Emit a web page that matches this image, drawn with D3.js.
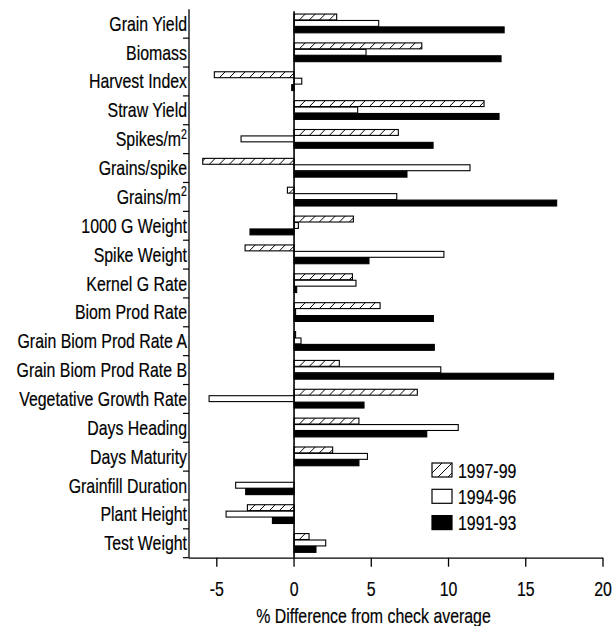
<!DOCTYPE html>
<html>
<head>
<meta charset="utf-8">
<script src="https://cdn.jsdelivr.net/npm/d3@7"></script>
<style>
  html, body { margin: 0; padding: 0; background: #fff; }
  svg text { font-family: "Liberation Sans", Arial, sans-serif; fill: #000; stroke: #000; stroke-width: 0.2; }
</style>
</head>
<body>
<svg id="chart" width="612" height="626"></svg>
<script>
// Traits, top to bottom
const traits = [
  "Grain Yield", "Biomass", "Harvest Index", "Straw Yield", "Spikes/m2",
  "Grains/spike", "Grains/m2", "1000 G Weight", "Spike Weight", "Kernel G Rate",
  "Biom Prod Rate", "Grain Biom Prod Rate A", "Grain Biom Prod Rate B",
  "Vegetative Growth Rate", "Days Heading", "Days Maturity",
  "Grainfill Duration", "Plant Height", "Test Weight"
];

// Periods (legend order)
const periods = ["1997-99", "1994-96", "1991-93"];

// % difference from check average, one array per period
const values1997_99 = [2.76, 8.27, -5.16, 12.3, 6.75, -5.91, -0.43, 3.84, -3.17, 3.78,
                       5.57, 0.1, 2.93, 7.98, 4.2, 2.5, 0, -3.02, 0.97];
const values1994_96 = [5.48, 4.66, 0.5, 4.12, -3.43, 11.39, 6.65, 0.28, 9.7, 4.01,
                       0.1, 0.45, 9.5, -5.5, 10.63, 4.75, -3.78, -4.4, 2.05];
const values1991_93 = [13.6, 13.4, -0.15, 13.27, 9.0, 7.31, 17.0, -2.85, 4.85, 0.17,
                       9.02, 9.08, 16.8, 4.53, 8.59, 4.2, -3.13, -1.4, 1.42];

const xTicks = [-5, 0, 5, 10, 15, 20];
const xTitle = "% Difference from check average";

const seriesValues = [values1997_99, values1994_96, values1991_93];

const svg = d3.select("#chart");
const plotLeft = 189, plotRight = 603, plotTop = 9.3, plotBottom = 557.7;
const FONT = 21, NARROW = 0.757;   // condensed lettering

// place a text at (px, py) with horizontally condensed glyphs
function narrow(sel, px, py) {
  return sel.attr("transform", (d, i) => {
    const xx = typeof px === "function" ? px(d, i) : px;
    const yy = typeof py === "function" ? py(d, i) : py;
    return `translate(${xx},${yy}) scale(${NARROW},1)`;
  }).attr("font-size", FONT);
}

const x = d3.scaleLinear().domain([-6.8, 20]).range([plotLeft, plotRight]);
const y = d3.scaleBand().domain(traits).range([plotTop, plotBottom]).paddingInner(0).paddingOuter(0);
const bh = y.bandwidth();
const ySub = d3.scaleBand().domain(periods).range([bh / 2 - 10.2, bh / 2 + 9.6]).padding(0.08);

// diagonal hatch pattern
const defs = svg.append("defs");
const pat = defs.append("pattern")
  .attr("id", "hatch")
  .attr("patternUnits", "userSpaceOnUse")
  .attr("width", 10).attr("height", 10);
pat.append("rect").attr("width", 10).attr("height", 10).attr("fill", "#fff");
pat.append("path").attr("d", "M-2,12 L12,-2 M-7,7 L7,-7 M3,17 L17,3")
  .attr("stroke", "#000").attr("stroke-width", 1);

const fills = ["url(#hatch)", "#fff", "#000"];

// bars
const rows = traits.map((t, i) => periods.map((p, j) => ({ trait: t, period: p, j, v: seriesValues[j][i] })));
const g = svg.append("g");
g.selectAll("g.row").data(rows).join("g")
  .attr("class", "row")
  .attr("transform", d => `translate(0,${y(d[0].trait)})`)
  .selectAll("rect").data(d => d).join("rect")
  .attr("x", d => x(Math.min(0, d.v)))
  .attr("width", d => Math.abs(x(d.v) - x(0)))
  .attr("y", d => ySub(d.period))
  .attr("height", ySub.bandwidth())
  .attr("fill", d => fills[d.j])
  .attr("stroke", "#000")
  .attr("stroke-width", 1.1);

// zero line
svg.append("line")
  .attr("x1", x(0)).attr("x2", x(0)).attr("y1", plotTop + 2).attr("y2", plotBottom)
  .attr("stroke", "#000").attr("stroke-width", 1.6);

// left axis: line, ticks at category boundaries, labels
svg.append("line").attr("x1", plotLeft).attr("x2", plotLeft).attr("y1", plotTop).attr("y2", plotBottom)
  .attr("stroke", "#000").attr("stroke-width", 1.3);
const boundaries = traits.slice(1).map(t => y(t)).concat([plotBottom]);
svg.append("g").selectAll("line").data(boundaries).join("line")
  .attr("x1", plotLeft - 6).attr("x2", plotLeft).attr("y1", d => d).attr("y2", d => d)
  .attr("stroke", "#000").attr("stroke-width", 1.2);

const labels = svg.append("g").selectAll("text").data(traits).join("text")
  .attr("text-anchor", "end");
narrow(labels, plotLeft - 2, d => y(d) + bh / 2 + 7);
labels.each(function (d) {
  const t = d3.select(this);
  if (d.endsWith("/m2")) {
    t.append("tspan").text(d.slice(0, -1));
    t.append("tspan").text("2").attr("font-size", 14).attr("dy", -7.5);
  } else {
    t.text(d);
  }
});

// bottom axis
const xAxis = svg.append("g");
xAxis.append("line").attr("x1", plotLeft).attr("x2", plotRight).attr("y1", plotBottom + 0.5).attr("y2", plotBottom + 0.5)
  .attr("stroke", "#000").attr("stroke-width", 1.3);
xAxis.selectAll("line.tick").data(xTicks).join("line")
  .attr("class", "tick")
  .attr("x1", d => x(d)).attr("x2", d => x(d))
  .attr("y1", plotBottom).attr("y2", plotBottom + 9)
  .attr("stroke", "#000").attr("stroke-width", 1.3);
const tickLabels = xAxis.selectAll("text.tl").data(xTicks).join("text")
  .attr("class", "tl")
  .attr("text-anchor", "middle")
  .text(d => d);
narrow(tickLabels, d => x(d), 595.5);

const title = svg.append("text")
  .attr("text-anchor", "middle")
  .text(xTitle);
narrow(title, (255 + 492) / 2, 622.5);

// legend
const legend = svg.append("g").attr("transform", "translate(432,463)");
const li = legend.selectAll("g").data(periods).join("g")
  .attr("transform", (d, i) => `translate(0,${i * 26.3})`);
li.append("rect").attr("width", 20).attr("height", 14)
  .attr("fill", (d, i) => fills[i]).attr("stroke", "#000").attr("stroke-width", 1.2);
narrow(li.append("text").text(d => d), 26, 14.5);
</script>
</body>
</html>
